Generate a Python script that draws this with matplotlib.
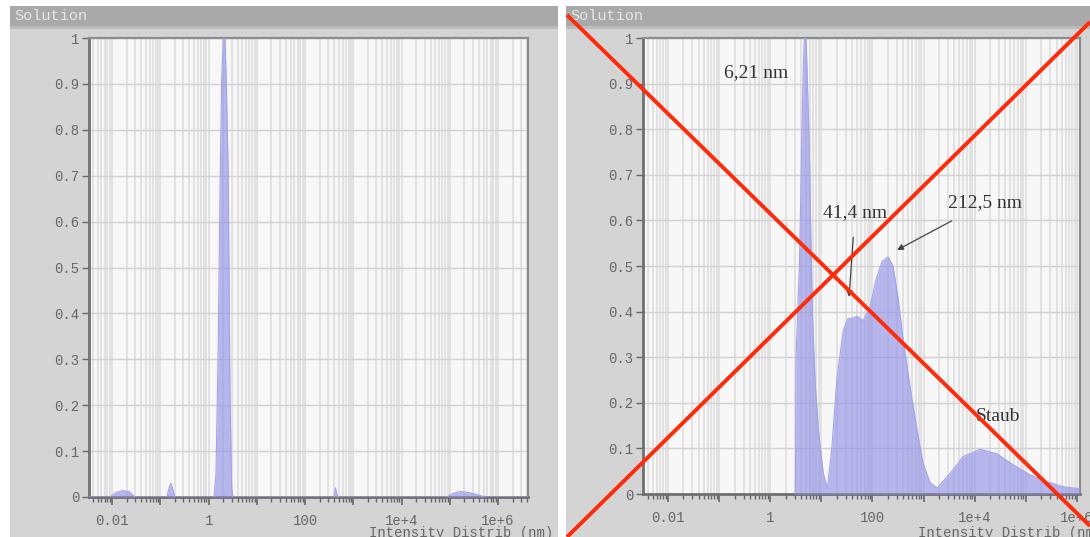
import matplotlib
matplotlib.use("Agg")
import matplotlib.pyplot as plt
from matplotlib.patches import Rectangle
from matplotlib.lines import Line2D
from matplotlib.ticker import FixedLocator, LogLocator, FixedFormatter, NullFormatter

# ---------------- data ----------------
left_size_nm = [0.0033, 0.0090, 0.012, 0.0168, 0.0224, 0.0297,
                0.137, 0.151, 0.166, 0.182, 0.200,
                1.29, 1.42, 1.58, 1.72, 1.86, 2.01, 2.18, 2.34, 2.55, 2.77, 3.00, 3.19,
                396, 425, 457, 490,
                87000, 116000, 162000, 237000, 347000, 533000, 4.2e6]
left_intensity = [0, 0, 0.010, 0.014, 0.012, 0,
                  0, 0.02, 0.03, 0.015, 0,
                  0, 0.05, 0.33, 0.67, 0.91, 1.0, 1.0, 0.89, 0.70, 0.22, 0.02, 0,
                  0, 0.02, 0.005, 0,
                  0, 0.008, 0.012, 0.010, 0.006, 0, 0]

right_size_nm = [3.10, 3.19, 3.71, 3.95, 4.13, 4.44, 4.64, 5.01, 5.31, 5.81, 6.19,
                 6.65, 7.51, 8.73, 10.9, 13.1, 16.0, 20.0, 26.9, 33.3, 39.8, 49.9,
                 65.3, 89.5, 117, 154, 202, 252, 316, 396, 543, 745, 975, 1337,
                 1832, 3296, 5920, 12740, 27400, 56400, 121000, 261000, 536000,
                 1.05e6, 1.15e6]
right_intensity = [0, 0.30, 0.50, 0.65, 0.78, 0.94, 1.0, 1.0, 0.91, 0.76, 0.58,
                   0.40, 0.25, 0.14, 0.045, 0.012, 0.10, 0.25, 0.36, 0.385, 0.385, 0.39,
                   0.38, 0.41, 0.47, 0.51, 0.52, 0.50, 0.43, 0.34, 0.235, 0.14, 0.067, 0.025,
                   0.013, 0.045, 0.082, 0.098, 0.088, 0.064, 0.042, 0.027, 0.016,
                   0.012, 0.012]

xtick_decades = [0.01, 0.1, 1, 10, 100, 1e3, 1e4, 1e5, 1e6]
xtick_labels = ["0.01", "", "1", "", "100", "", "1e+4", "", "1e+6"]
ytick_values = [0, 0.1, 0.2, 0.3, 0.4, 0.5, 0.6, 0.7, 0.8, 0.9, 1.0]
ytick_labels = ["0", "0.1", "0.2", "0.3", "0.4", "0.5", "0.6", "0.7", "0.8", "0.9", "1"]

panel_title = "Solution"
x_axis_label = "Intensity Distrib (nm)"

annotations = [  # text, text position (nm, value), arrow tip (nm, value) or None
    ("6,21 nm", (0.53, 0.925), None),
    ("41,4 nm", (45.6, 0.618), (34.8, 0.432)),
    ("212,5 nm", (15960, 0.638), (302, 0.535)),
    ("Staub", (28600, 0.169), None),
]

# ---------------- figure ----------------
W, H = 1090, 537
fig = plt.figure(figsize=(W / 100, H / 100), dpi=100, facecolor="white")

MONO = ["Liberation Mono", "DejaVu Sans Mono"]
SERIF = ["Liberation Serif", "DejaVu Serif"]


def fx(px):
    return px / W


def fy(py):
    return 1 - py / H


def rect(x0, y0, x1, y1, color):
    fig.patches.append(Rectangle((fx(x0), fy(y1)), fx(x1) - fx(x0), fy(y0) - fy(y1),
                                 transform=fig.transFigure, facecolor=color,
                                 edgecolor="none", zorder=-5))


def panel(px0, px1, ax_box, xlim, sizes, vals, label_x, label_ha):
    rect(px0, 6, px1, 537, "#d4d4d4")
    rect(px0, 6, px1, 26, "#a9a9a9")
    rect(px0, 26, px1, 29, "#bcbcbc")
    fig.text(fx(px0 + 4), fy(16), panel_title, fontsize=11, family=MONO,
             color="#e6e6e6", va="center", ha="left")
    l, t, r, b = ax_box
    ax = fig.add_axes([fx(l), fy(b), fx(r) - fx(l), fy(t) - fy(b)])
    ax.set_facecolor("#f7f7f7")
    ax.set_xscale("log")
    ax.set_xlim(*xlim)
    ax.set_ylim(0, 1)
    ax.set_axisbelow(True)
    ax.xaxis.set_major_locator(FixedLocator(xtick_decades))
    ax.xaxis.set_major_formatter(FixedFormatter(xtick_labels))
    ax.xaxis.set_minor_locator(LogLocator(base=10, subs=range(2, 10), numticks=200))
    ax.xaxis.set_minor_formatter(NullFormatter())
    ax.set_yticks(ytick_values)
    ax.set_yticklabels(ytick_labels)
    ax.grid(True, which="both", axis="x", color="#e2e2e2", lw=1.4)
    ax.grid(True, which="major", axis="y", color="#d2d2d2", lw=1.0)
    ax.tick_params(axis="both", which="major", direction="out", color="#666666",
                   labelcolor="#666666", labelsize=10)
    ax.tick_params(axis="x", which="major", length=6, width=1.2, pad=6)
    ax.tick_params(axis="x", which="minor", length=3.5, width=1.0, color="#666666")
    ax.tick_params(axis="y", which="major", length=5, width=1.0, pad=2)
    for lab in ax.get_xticklabels() + ax.get_yticklabels():
        lab.set_family(MONO)
    for s in ("left", "bottom"):
        ax.spines[s].set_color("#707070")
        ax.spines[s].set_linewidth(2.0)
    for s in ("top", "right"):
        ax.spines[s].set_color("#8c8c8c")
        ax.spines[s].set_linewidth(1.6)
    ax.fill_between(sizes, 0, vals, color="#8f8fe6", alpha=0.62, lw=0, zorder=3)
    ax.plot(sizes, vals, color="#a3a3ea", lw=0.8, zorder=4)
    fig.text(fx(label_x), fy(526), x_axis_label, fontsize=10, family=MONO,
             color="#666666", ha=label_ha, va="top")
    return ax


ax1 = panel(10, 558, (89, 38, 528, 497), (10 ** -2.48, 10 ** 6.62),
            left_size_nm, left_intensity, 553, "right")
ax2 = panel(566, 1090, (643, 38, 1080, 494), (10 ** -2.49, 10 ** 6.06),
            right_size_nm, right_intensity, 918, "left")

for text, pos, tip in annotations:
    if tip is None:
        ax2.text(pos[0], pos[1], text, fontsize=14, family=SERIF, color="#333333",
                 ha="center", va="center", zorder=6)
    else:
        ax2.annotate(text, xy=tip, xytext=pos, fontsize=14, family=SERIF,
                     color="#333333", ha="center", va="center", zorder=6,
                     arrowprops=dict(arrowstyle="-|>", color="#444444", lw=0.9,
                                     shrinkA=10, shrinkB=0, mutation_scale=9))

# red cross over the right panel
for (x0, y0), (x1, y1) in [((567, 15), (1090, 526)), ((567, 537), (1090, 22))]:
    fig.add_artist(Line2D([fx(x0), fx(x1)], [fy(y0), fy(y1)], transform=fig.transFigure,
                          color="#ff2a0a", lw=2.8, zorder=10, solid_capstyle="butt"))

fig.savefig("out.png", dpi=100, facecolor="white")
